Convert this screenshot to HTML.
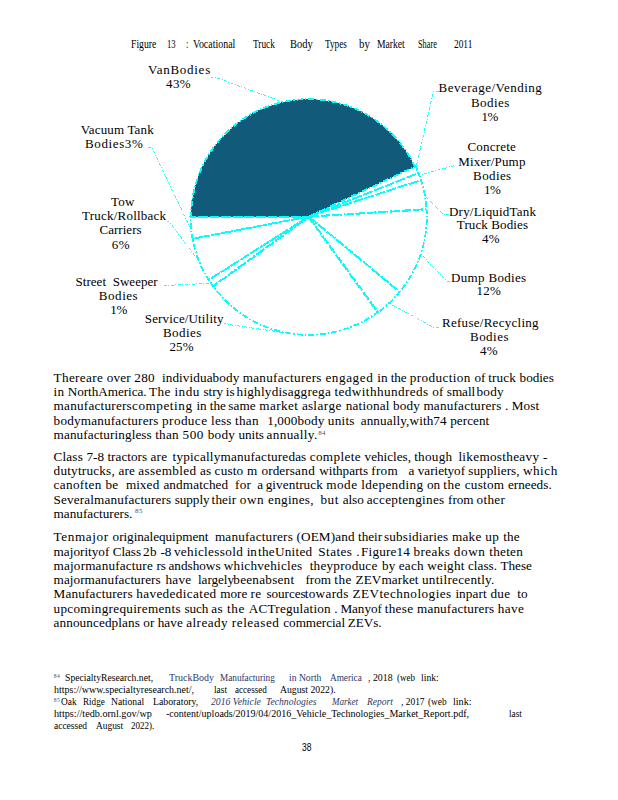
<!DOCTYPE html>
<html lang="en">
<head>
<meta charset="utf-8">
<title>Figure 13: Vocational Truck Body Types by Market Share 2011</title>
<style>
html,body{margin:0;padding:0;background:#fff;}
body{width:618px;height:800px;position:relative;overflow:hidden;
  font-family:"Liberation Serif", serif;color:#000;}
.t{position:absolute;white-space:pre;line-height:16px;transform-origin:0 50%;}
</style>
</head>
<body>
<svg width="618" height="800" viewBox="0 0 618 800" style="position:absolute;left:0;top:0" shape-rendering="crispEdges">
<path d="M308.6 216.6L191.1 216.6A117.50 117.50 0 0 1 414.9 166.6Z" fill="#125a79" stroke="#00ffff" stroke-width="1.8" stroke-dasharray="6 2 1.6 2"/>
<path transform="translate(0.64 -0.28)" d="M308.6 216.6L414.9 166.6A117.50 117.50 0 0 1 417.8 173.3Z" fill="none" stroke="#00ffff" stroke-width="1.8" stroke-dasharray="6 2 1.6 2"/>
<path transform="translate(0.66 -0.24)" d="M308.6 216.6L417.8 173.3A117.50 117.50 0 0 1 420.3 180.3Z" fill="none" stroke="#00ffff" stroke-width="1.8" stroke-dasharray="6 2 1.6 2"/>
<path transform="translate(0.69 -0.13)" d="M308.6 216.6L420.3 180.3A117.50 117.50 0 0 1 425.9 209.2Z" fill="none" stroke="#00ffff" stroke-width="1.8" stroke-dasharray="6 2 1.6 2"/>
<path transform="translate(0.67 0.22)" d="M308.6 216.6L425.9 209.2A117.50 117.50 0 0 1 399.1 291.5Z" fill="none" stroke="#00ffff" stroke-width="1.8" stroke-dasharray="6 2 1.6 2"/>
<path transform="translate(0.48 0.51)" d="M308.6 216.6L399.1 291.5A117.50 117.50 0 0 1 377.7 311.7Z" fill="none" stroke="#00ffff" stroke-width="1.8" stroke-dasharray="6 2 1.6 2"/>
<path transform="translate(-0.11 0.69)" d="M308.6 216.6L377.7 311.7A117.50 117.50 0 0 1 213.5 285.7Z" fill="none" stroke="#00ffff" stroke-width="1.8" stroke-dasharray="6 2 1.6 2"/>
<path transform="translate(-0.58 0.39)" d="M308.6 216.6L213.5 285.7A117.50 117.50 0 0 1 209.4 279.6Z" fill="none" stroke="#00ffff" stroke-width="1.8" stroke-dasharray="6 2 1.6 2"/>
<path transform="translate(-0.65 0.26)" d="M308.6 216.6L209.4 279.6A117.50 117.50 0 0 1 193.2 238.6Z" fill="none" stroke="#00ffff" stroke-width="1.8" stroke-dasharray="6 2 1.6 2"/>
<path transform="translate(-0.70 0.07)" d="M308.6 216.6L193.2 238.6A117.50 117.50 0 0 1 191.1 216.6Z" fill="none" stroke="#00ffff" stroke-width="1.8" stroke-dasharray="6 2 1.6 2"/>
<polyline points="210.5,77.0 216.0,77.5 281.5,101.5" fill="none" stroke="#00ffff" stroke-width="0.9" stroke-dasharray="3 1.5 1 1.5"/>
<polyline points="148.0,147.7 152.0,148.0 190.5,228.0" fill="none" stroke="#00ffff" stroke-width="0.9" stroke-dasharray="3 1.5 1 1.5"/>
<polyline points="166.5,221.7 170.0,222.5 198.3,260.4" fill="none" stroke="#00ffff" stroke-width="0.9" stroke-dasharray="3 1.5 1 1.5"/>
<polyline points="164.0,285.5 210.4,283.3" fill="none" stroke="#00ffff" stroke-width="0.9" stroke-dasharray="3 1.5 1 1.5"/>
<polyline points="223.5,323.7 289.5,333.5" fill="none" stroke="#00ffff" stroke-width="0.9" stroke-dasharray="3 1.5 1 1.5"/>
<polyline points="438.5,91.6 433.4,92.0 416.0,167.0" fill="none" stroke="#00ffff" stroke-width="0.9" stroke-dasharray="3 1.5 1 1.5"/>
<polyline points="454.0,165.7 418.0,175.5" fill="none" stroke="#00ffff" stroke-width="0.9" stroke-dasharray="3 1.5 1 1.5"/>
<polyline points="449.0,214.8 443.7,214.8 424.5,195.0" fill="none" stroke="#00ffff" stroke-width="0.9" stroke-dasharray="3 1.5 1 1.5"/>
<polyline points="450.0,281.0 447.0,281.0 420.2,253.5" fill="none" stroke="#00ffff" stroke-width="0.9" stroke-dasharray="3 1.5 1 1.5"/>
<polyline points="438.5,327.0 433.0,327.0 388.8,303.0" fill="none" stroke="#00ffff" stroke-width="0.9" stroke-dasharray="3 1.5 1 1.5"/>
</svg>
<span class="t" style="left:131.1px;top:36.1px;font-size:13.3px;transform:scaleX(0.7287);">Figure</span>
<span class="t" style="left:167.2px;top:36.1px;font-size:13.3px;transform:scaleX(0.6543);">13</span>
<span class="t" style="left:185.9px;top:36.1px;font-size:13.3px;transform:scaleX(0.6211);">:</span>
<span class="t" style="left:192.8px;top:36.1px;font-size:13.3px;transform:scaleX(0.7470);">Vocational</span>
<span class="t" style="left:252.5px;top:36.1px;font-size:13.3px;transform:scaleX(0.6998);">Truck</span>
<span class="t" style="left:290.4px;top:36.1px;font-size:13.3px;transform:scaleX(0.7874);">Body</span>
<span class="t" style="left:324.8px;top:36.1px;font-size:13.3px;transform:scaleX(0.6904);">Types</span>
<span class="t" style="left:359.1px;top:36.1px;font-size:13.3px;transform:scaleX(0.8122);">by</span>
<span class="t" style="left:377.2px;top:36.1px;font-size:13.3px;transform:scaleX(0.7212);">Market</span>
<span class="t" style="left:418.0px;top:36.1px;font-size:13.3px;transform:scaleX(0.6241);">Share</span>
<span class="t" style="left:453.5px;top:36.1px;font-size:13.3px;transform:scaleX(0.7047);">2011</span>
<span class="t" style="left:148.0px;top:61.5px;font-size:13.0px;letter-spacing:0.732px;">VanBodies</span>
<span class="t" style="left:166.1px;top:75.5px;font-size:13.0px;letter-spacing:0.378px;">43%</span>
<span class="t" style="left:80.7px;top:121.8px;font-size:13.0px;letter-spacing:0.158px;">Vacuum Tank</span>
<span class="t" style="left:85.1px;top:135.8px;font-size:13.0px;letter-spacing:0.607px;">Bodies3%</span>
<span class="t" style="left:111.1px;top:193.9px;font-size:13.0px;letter-spacing:0.189px;">Tow</span>
<span class="t" style="left:82.0px;top:208.0px;font-size:13.0px;letter-spacing:0.228px;">Truck/Rollback</span>
<span class="t" style="left:99.5px;top:222.4px;font-size:13.0px;letter-spacing:0.032px;">Carriers</span>
<span class="t" style="left:111.8px;top:236.7px;font-size:13.0px;letter-spacing:0.456px;">6%</span>
<span class="t" style="left:75.5px;top:273.6px;font-size:13.0px;letter-spacing:0.043px;">Street  Sweeper</span>
<span class="t" style="left:98.8px;top:287.8px;font-size:13.0px;letter-spacing:0.555px;">Bodies</span>
<span class="t" style="left:110.2px;top:301.7px;font-size:13.0px;letter-spacing:-0.244px;">1%</span>
<span class="t" style="left:144.8px;top:311.1px;font-size:13.0px;letter-spacing:0.147px;">Service/Utility</span>
<span class="t" style="left:162.9px;top:325.0px;font-size:13.0px;letter-spacing:0.475px;">Bodies</span>
<span class="t" style="left:169.4px;top:339.2px;font-size:13.0px;letter-spacing:0.228px;">25%</span>
<span class="t" style="left:438.6px;top:80.2px;font-size:13.0px;letter-spacing:0.471px;">Beverage/Vending</span>
<span class="t" style="left:471.0px;top:94.5px;font-size:13.0px;letter-spacing:0.435px;">Bodies</span>
<span class="t" style="left:481.6px;top:108.7px;font-size:13.0px;letter-spacing:-0.544px;">1%</span>
<span class="t" style="left:467.4px;top:139.3px;font-size:13.0px;letter-spacing:0.211px;">Concrete</span>
<span class="t" style="left:458.3px;top:153.8px;font-size:13.0px;letter-spacing:0.152px;">Mixer/Pump</span>
<span class="t" style="left:473.1px;top:168.0px;font-size:13.0px;letter-spacing:0.375px;">Bodies</span>
<span class="t" style="left:484.0px;top:182.0px;font-size:13.0px;letter-spacing:-0.544px;">1%</span>
<span class="t" style="left:449.0px;top:203.6px;font-size:13.0px;letter-spacing:0.208px;">Dry/LiquidTank</span>
<span class="t" style="left:456.8px;top:217.3px;font-size:13.0px;letter-spacing:0.113px;">Truck Bodies</span>
<span class="t" style="left:482.1px;top:231.3px;font-size:13.0px;letter-spacing:0.256px;">4%</span>
<span class="t" style="left:451.1px;top:269.6px;font-size:13.0px;letter-spacing:0.312px;">Dump Bodies</span>
<span class="t" style="left:476.4px;top:283.3px;font-size:13.0px;letter-spacing:0.278px;">12%</span>
<span class="t" style="left:442.0px;top:315.4px;font-size:13.0px;letter-spacing:0.279px;">Refuse/Recycling</span>
<span class="t" style="left:470.0px;top:329.2px;font-size:13.0px;letter-spacing:0.475px;">Bodies</span>
<span class="t" style="left:480.0px;top:343.1px;font-size:13.0px;letter-spacing:0.356px;">4%</span>
<span class="t" style="left:53.6px;top:369.8px;font-size:13.2px;letter-spacing:0.338px;">Thereare </span>
<span class="t" style="left:106.8px;top:369.8px;font-size:13.2px;letter-spacing:0.153px;">over </span>
<span class="t" style="left:134.3px;top:369.8px;font-size:13.2px;letter-spacing:0.250px;">280 </span>
<span class="t" style="left:162.0px;top:369.8px;font-size:13.2px;letter-spacing:0.086px;">individuabody </span>
<span class="t" style="left:242.7px;top:369.8px;font-size:13.2px;letter-spacing:0.283px;">manufacturers </span>
<span class="t" style="left:325.4px;top:369.8px;font-size:13.2px;letter-spacing:0.583px;">engaged </span>
<span class="t" style="left:377.3px;top:369.8px;font-size:13.2px;letter-spacing:-0.050px;">in the </span>
<span class="t" style="left:409.8px;top:369.8px;font-size:13.2px;letter-spacing:0.387px;">production </span>
<span class="t" style="left:474.5px;top:369.8px;font-size:13.2px;letter-spacing:-0.050px;">of </span>
<span class="t" style="left:488.2px;top:369.8px;font-size:13.2px;letter-spacing:0.166px;">truck </span>
<span class="t" style="left:519.6px;top:369.8px;font-size:13.2px;letter-spacing:-0.050px;">bodies</span>
<span class="t" style="left:53.6px;top:384.1px;font-size:13.2px;letter-spacing:0.179px;">in </span>
<span class="t" style="left:67.7px;top:384.1px;font-size:13.2px;letter-spacing:-0.050px;">NorthAmerica. </span>
<span class="t" style="left:148.9px;top:384.1px;font-size:13.2px;letter-spacing:0.450px;">The indu </span>
<span class="t" style="left:203.5px;top:384.1px;font-size:13.2px;letter-spacing:-0.050px;">stry </span>
<span class="t" style="left:225.8px;top:384.1px;font-size:13.2px;letter-spacing:-0.050px;">is </span>
<span class="t" style="left:236.6px;top:384.1px;font-size:13.2px;letter-spacing:0.222px;">highlydisaggrega </span>
<span class="t" style="left:334.5px;top:384.1px;font-size:13.2px;letter-spacing:0.406px;">tedwithhundreds </span>
<span class="t" style="left:432.2px;top:384.1px;font-size:13.2px;letter-spacing:0.101px;">of </span>
<span class="t" style="left:446.8px;top:384.1px;font-size:13.2px;letter-spacing:-0.050px;">small </span>
<span class="t" style="left:476.5px;top:384.1px;font-size:13.2px;letter-spacing:0.242px;">body</span>
<span class="t" style="left:53.6px;top:398.3px;font-size:13.2px;letter-spacing:0.228px;">manufacturers</span>
<span class="t" style="left:132.0px;top:398.3px;font-size:13.2px;letter-spacing:0.543px;">competing </span>
<span class="t" style="left:196.4px;top:398.3px;font-size:13.2px;letter-spacing:-0.050px;">in the </span>
<span class="t" style="left:228.2px;top:398.3px;font-size:13.2px;letter-spacing:0.139px;">same </span>
<span class="t" style="left:259.3px;top:398.3px;font-size:13.2px;letter-spacing:0.411px;">market </span>
<span class="t" style="left:302.1px;top:398.3px;font-size:13.2px;letter-spacing:-0.050px;">as </span>
<span class="t" style="left:313.2px;top:398.3px;font-size:13.2px;letter-spacing:0.530px;">large </span>
<span class="t" style="left:345.8px;top:398.3px;font-size:13.2px;letter-spacing:0.158px;">national </span>
<span class="t" style="left:393.0px;top:398.3px;font-size:13.2px;letter-spacing:0.142px;">body</span>
<span class="t" style="left:423.4px;top:398.3px;font-size:13.2px;letter-spacing:0.205px;">manufacturers </span>
<span class="t" style="left:505.0px;top:398.3px;font-size:13.2px;letter-spacing:0.103px;">. </span>
<span class="t" style="left:511.8px;top:398.3px;font-size:13.2px;letter-spacing:0.058px;">Most</span>
<span class="t" style="left:53.6px;top:412.6px;font-size:13.2px;letter-spacing:0.188px;">bodymanufacturers </span>
<span class="t" style="left:162.1px;top:412.6px;font-size:13.2px;letter-spacing:0.402px;">produce </span>
<span class="t" style="left:211.1px;top:412.6px;font-size:13.2px;letter-spacing:0.184px;">less </span>
<span class="t" style="left:235.1px;top:412.6px;font-size:13.2px;letter-spacing:0.250px;">than </span>
<span class="t" style="left:267.2px;top:412.6px;font-size:13.2px;letter-spacing:0.126px;">1,000body </span>
<span class="t" style="left:327.8px;top:412.6px;font-size:13.2px;letter-spacing:0.250px;">units </span>
<span class="t" style="left:360.7px;top:412.6px;font-size:13.2px;letter-spacing:0.107px;">annually,with74 </span>
<span class="t" style="left:450.2px;top:412.6px;font-size:13.2px;letter-spacing:0.048px;">percent</span>
<span class="t" style="left:53.6px;top:426.8px;font-size:13.2px;letter-spacing:0.090px;">manufacturingless </span>
<span class="t" style="left:155.2px;top:426.8px;font-size:13.2px;letter-spacing:0.257px;">than </span>
<span class="t" style="left:182.5px;top:426.8px;font-size:13.2px;letter-spacing:0.555px;">500 </span>
<span class="t" style="left:207.8px;top:426.8px;font-size:13.2px;letter-spacing:0.206px;">body </span>
<span class="t" style="left:238.5px;top:426.8px;font-size:13.2px;letter-spacing:-0.050px;">units </span>
<span class="t" style="left:266.6px;top:426.8px;font-size:13.2px;letter-spacing:0.343px;">annually.</span>
<span class="t" style="left:53.6px;top:448.7px;font-size:13.2px;letter-spacing:0.154px;">Class </span>
<span class="t" style="left:86.4px;top:448.7px;font-size:13.2px;letter-spacing:0.027px;">7-8 </span>
<span class="t" style="left:107.4px;top:448.7px;font-size:13.2px;letter-spacing:0.028px;">tractors </span>
<span class="t" style="left:150.5px;top:448.7px;font-size:13.2px;letter-spacing:0.250px;">are </span>
<span class="t" style="left:172.6px;top:448.7px;font-size:13.2px;letter-spacing:0.189px;">typicallymanufactured</span>
<span class="t" style="left:295.2px;top:448.7px;font-size:13.2px;letter-spacing:0.068px;">as </span>
<span class="t" style="left:309.7px;top:448.7px;font-size:13.2px;letter-spacing:0.362px;">complete </span>
<span class="t" style="left:364.6px;top:448.7px;font-size:13.2px;letter-spacing:-0.021px;">vehicles, </span>
<span class="t" style="left:414.2px;top:448.7px;font-size:13.2px;letter-spacing:0.250px;">though </span>
<span class="t" style="left:458.4px;top:448.7px;font-size:13.2px;letter-spacing:0.306px;">likemostheavy </span>
<span class="t" style="left:542.9px;top:448.7px;font-size:13.2px;letter-spacing:-0.006px;">-</span>
<span class="t" style="left:53.6px;top:463.0px;font-size:13.2px;letter-spacing:0.218px;">dutytrucks, </span>
<span class="t" style="left:118.5px;top:463.0px;font-size:13.2px;letter-spacing:0.098px;">are </span>
<span class="t" style="left:138.3px;top:463.0px;font-size:13.2px;letter-spacing:0.347px;">assembled </span>
<span class="t" style="left:200.0px;top:463.0px;font-size:13.2px;letter-spacing:0.101px;">as </span>
<span class="t" style="left:214.6px;top:463.0px;font-size:13.2px;letter-spacing:0.193px;">custo </span>
<span class="t" style="left:246.9px;top:463.0px;font-size:13.2px;letter-spacing:0.519px;">m </span>
<span class="t" style="left:261.5px;top:463.0px;font-size:13.2px;letter-spacing:0.072px;">orders</span>
<span class="t" style="left:294.9px;top:463.0px;font-size:13.2px;letter-spacing:0.514px;">and </span>
<span class="t" style="left:319.3px;top:463.0px;font-size:13.2px;letter-spacing:-0.039px;">withparts </span>
<span class="t" style="left:371.3px;top:463.0px;font-size:13.2px;letter-spacing:0.250px;">from </span>
<span class="t" style="left:408.5px;top:463.0px;font-size:13.2px;letter-spacing:0.072px;">a </span>
<span class="t" style="left:417.8px;top:463.0px;font-size:13.2px;letter-spacing:-0.041px;">varietyof </span>
<span class="t" style="left:468.3px;top:463.0px;font-size:13.2px;letter-spacing:0.035px;">suppliers, </span>
<span class="t" style="left:522.9px;top:463.0px;font-size:13.2px;letter-spacing:0.541px;">which</span>
<span class="t" style="left:53.6px;top:477.2px;font-size:13.2px;letter-spacing:0.344px;">canoften </span>
<span class="t" style="left:105.4px;top:477.2px;font-size:13.2px;letter-spacing:0.250px;">be </span>
<span class="t" style="left:126.0px;top:477.2px;font-size:13.2px;letter-spacing:-0.050px;">mix</span>
<span class="t" style="left:146.6px;top:477.2px;font-size:13.2px;letter-spacing:0.250px;">ed</span>
<span class="t" style="left:163.4px;top:477.2px;font-size:13.2px;letter-spacing:0.120px;">andmatched</span>
<span class="t" style="left:235.1px;top:477.2px;font-size:13.2px;letter-spacing:0.250px;">for </span>
<span class="t" style="left:257.3px;top:477.2px;font-size:13.2px;letter-spacing:-0.050px;">a </span>
<span class="t" style="left:265.7px;top:477.2px;font-size:13.2px;letter-spacing:0.082px;">giventruck </span>
<span class="t" style="left:326.3px;top:477.2px;font-size:13.2px;letter-spacing:0.478px;">mode </span>
<span class="t" style="left:361.3px;top:477.2px;font-size:13.2px;letter-spacing:0.345px;">ldepending </span>
<span class="t" style="left:427.0px;top:477.2px;font-size:13.2px;letter-spacing:-0.050px;">on </span>
<span class="t" style="left:443.3px;top:477.2px;font-size:13.2px;letter-spacing:0.495px;">the </span>
<span class="t" style="left:464.7px;top:477.2px;font-size:13.2px;letter-spacing:0.256px;">custom </span>
<span class="t" style="left:507.9px;top:477.2px;font-size:13.2px;letter-spacing:0.032px;">erneeds.</span>
<span class="t" style="left:53.6px;top:491.5px;font-size:13.2px;letter-spacing:0.135px;">Severalmanufacturers </span>
<span class="t" style="left:174.7px;top:491.5px;font-size:13.2px;letter-spacing:-0.050px;">supply</span>
<span class="t" style="left:211.6px;top:491.5px;font-size:13.2px;letter-spacing:0.122px;">their </span>
<span class="t" style="left:239.8px;top:491.5px;font-size:13.2px;letter-spacing:0.571px;">own </span>
<span class="t" style="left:268.1px;top:491.5px;font-size:13.2px;letter-spacing:0.250px;">engines, </span>
<span class="t" style="left:320.5px;top:491.5px;font-size:13.2px;letter-spacing:0.511px;">but </span>
<span class="t" style="left:342.7px;top:491.5px;font-size:13.2px;letter-spacing:-0.050px;">also </span>
<span class="t" style="left:366.7px;top:491.5px;font-size:13.2px;letter-spacing:0.295px;">acceptengines </span>
<span class="t" style="left:448.1px;top:491.5px;font-size:13.2px;letter-spacing:-0.050px;">from </span>
<span class="t" style="left:476.6px;top:491.5px;font-size:13.2px;letter-spacing:0.298px;">other</span>
<span class="t" style="left:53.6px;top:505.7px;font-size:13.2px;letter-spacing:0.005px;">manufacturers.</span>
<span class="t" style="left:53.6px;top:529.3px;font-size:13.2px;letter-spacing:0.595px;">Tenmajor </span>
<span class="t" style="left:112.6px;top:529.3px;font-size:13.2px;letter-spacing:-0.050px;">originalequipment</span>
<span class="t" style="left:214.9px;top:529.3px;font-size:13.2px;letter-spacing:0.205px;">manufacturers </span>
<span class="t" style="left:296.5px;top:529.3px;font-size:13.2px;letter-spacing:0.129px;">(OEM)and </span>
<span class="t" style="left:358.1px;top:529.3px;font-size:13.2px;letter-spacing:-0.050px;">their </span>
<span class="t" style="left:384.0px;top:529.3px;font-size:13.2px;letter-spacing:0.179px;">subsidiaries </span>
<span class="t" style="left:451.9px;top:529.3px;font-size:13.2px;letter-spacing:0.308px;">make </span>
<span class="t" style="left:485.3px;top:529.3px;font-size:13.2px;letter-spacing:0.472px;">up </span>
<span class="t" style="left:503.2px;top:529.3px;font-size:13.2px;letter-spacing:0.138px;">the</span>
<span class="t" style="left:53.6px;top:543.6px;font-size:13.2px;letter-spacing:0.012px;">majorityof </span>
<span class="t" style="left:112.7px;top:543.6px;font-size:13.2px;letter-spacing:-0.050px;">Class </span>
<span class="t" style="left:143.0px;top:543.6px;font-size:13.2px;letter-spacing:0.305px;">2b </span>
<span class="t" style="left:160.4px;top:543.6px;font-size:13.2px;letter-spacing:-0.050px;">-8 </span>
<span class="t" style="left:173.9px;top:543.6px;font-size:13.2px;letter-spacing:0.331px;">vehiclessold </span>
<span class="t" style="left:246.7px;top:543.6px;font-size:13.2px;letter-spacing:-0.050px;">in </span>
<span class="t" style="left:258.1px;top:543.6px;font-size:13.2px;letter-spacing:0.250px;">theUnited</span>
<span class="t" style="left:318.3px;top:543.6px;font-size:13.2px;letter-spacing:0.441px;">States </span>
<span class="t" style="left:356.2px;top:543.6px;font-size:13.2px;letter-spacing:-0.050px;">. </span>
<span class="t" style="left:361.1px;top:543.6px;font-size:13.2px;letter-spacing:0.175px;">Figure14 </span>
<span class="t" style="left:413.6px;top:543.6px;font-size:13.2px;letter-spacing:0.354px;">breaks </span>
<span class="t" style="left:453.8px;top:543.6px;font-size:13.2px;letter-spacing:0.578px;">down </span>
<span class="t" style="left:489.3px;top:543.6px;font-size:13.2px;letter-spacing:0.250px;">theten</span>
<span class="t" style="left:53.6px;top:557.8px;font-size:13.2px;letter-spacing:0.167px;">majormanufacture </span>
<span class="t" style="left:156.4px;top:557.8px;font-size:13.2px;letter-spacing:-0.050px;">rs </span>
<span class="t" style="left:168.5px;top:557.8px;font-size:13.2px;">andshows </span>
<span class="t" style="left:223.8px;top:557.8px;font-size:13.2px;letter-spacing:0.250px;">whichvehicles</span>
<span class="t" style="left:309.7px;top:557.8px;font-size:13.2px;letter-spacing:0.241px;">theyproduce</span>
<span class="t" style="left:382.0px;top:557.8px;font-size:13.2px;letter-spacing:0.105px;">by </span>
<span class="t" style="left:398.8px;top:557.8px;font-size:13.2px;letter-spacing:0.209px;">each </span>
<span class="t" style="left:427.3px;top:557.8px;font-size:13.2px;letter-spacing:0.250px;">weight</span>
<span class="t" style="left:467.9px;top:557.8px;font-size:13.2px;letter-spacing:0.038px;">class. </span>
<span class="t" style="left:500.4px;top:557.8px;font-size:13.2px;">These</span>
<span class="t" style="left:53.6px;top:572.1px;font-size:13.2px;letter-spacing:0.054px;">majormanufacturers</span>
<span class="t" style="left:165.5px;top:572.1px;font-size:13.2px;letter-spacing:0.250px;">have </span>
<span class="t" style="left:198.0px;top:572.1px;font-size:13.2px;letter-spacing:-0.050px;">largely</span>
<span class="t" style="left:233.3px;top:572.1px;font-size:13.2px;letter-spacing:0.250px;">beenabsent</span>
<span class="t" style="left:305.5px;top:572.1px;font-size:13.2px;letter-spacing:-0.027px;">from </span>
<span class="t" style="left:334.3px;top:572.1px;font-size:13.2px;letter-spacing:0.470px;">the </span>
<span class="t" style="left:355.6px;top:572.1px;font-size:13.2px;letter-spacing:0.085px;">ZEVmarket </span>
<span class="t" style="left:422.0px;top:572.1px;font-size:13.2px;letter-spacing:0.254px;">untilrecently.</span>
<span class="t" style="left:53.6px;top:586.3px;font-size:13.2px;letter-spacing:0.172px;">Manufacturers </span>
<span class="t" style="left:136.2px;top:586.3px;font-size:13.2px;letter-spacing:0.384px;">havededicated </span>
<span class="t" style="left:220.3px;top:586.3px;font-size:13.2px;letter-spacing:-0.041px;">more </span>
<span class="t" style="left:250.5px;top:586.3px;font-size:13.2px;letter-spacing:0.250px;">re </span>
<span class="t" style="left:266.4px;top:586.3px;font-size:13.2px;letter-spacing:-0.050px;">sources</span>
<span class="t" style="left:304.7px;top:586.3px;font-size:13.2px;letter-spacing:0.330px;">towards </span>
<span class="t" style="left:352.4px;top:586.3px;font-size:13.2px;letter-spacing:0.469px;">ZEVtechnologies </span>
<span class="t" style="left:455.5px;top:586.3px;font-size:13.2px;letter-spacing:-0.050px;">in </span>
<span class="t" style="left:465.7px;top:586.3px;font-size:13.2px;letter-spacing:0.198px;">part </span>
<span class="t" style="left:490.5px;top:586.3px;font-size:13.2px;letter-spacing:0.250px;">due </span>
<span class="t" style="left:517.3px;top:586.3px;font-size:13.2px;letter-spacing:-0.050px;">to</span>
<span class="t" style="left:53.6px;top:600.5px;font-size:13.2px;letter-spacing:0.281px;">upcomingrequirements </span>
<span class="t" style="left:184.4px;top:600.5px;font-size:13.2px;letter-spacing:-0.050px;">such </span>
<span class="t" style="left:211.2px;top:600.5px;font-size:13.2px;letter-spacing:0.501px;">as </span>
<span class="t" style="left:227.0px;top:600.5px;font-size:13.2px;letter-spacing:0.595px;">the </span>
<span class="t" style="left:248.8px;top:600.5px;font-size:13.2px;letter-spacing:0.209px;">ACTregulation</span>
<span class="t" style="left:334.3px;top:600.5px;font-size:13.2px;letter-spacing:-0.050px;">. </span>
<span class="t" style="left:340.4px;top:600.5px;font-size:13.2px;letter-spacing:-0.050px;">Manyof</span>
<span class="t" style="left:384.7px;top:600.5px;font-size:13.2px;letter-spacing:0.316px;">these </span>
<span class="t" style="left:417.0px;top:600.5px;font-size:13.2px;letter-spacing:0.140px;">manufacturers </span>
<span class="t" style="left:497.7px;top:600.5px;font-size:13.2px;letter-spacing:0.465px;">have</span>
<span class="t" style="left:53.6px;top:614.8px;font-size:13.2px;letter-spacing:0.096px;">announcedplans </span>
<span class="t" style="left:143.3px;top:614.8px;font-size:13.2px;letter-spacing:0.034px;">or </span>
<span class="t" style="left:157.7px;top:614.8px;font-size:13.2px;letter-spacing:0.059px;">have </span>
<span class="t" style="left:186.2px;top:614.8px;font-size:13.2px;letter-spacing:0.436px;">already </span>
<span class="t" style="left:231.8px;top:614.8px;font-size:13.2px;letter-spacing:0.556px;">released </span>
<span class="t" style="left:283.3px;top:614.8px;font-size:13.2px;letter-spacing:-0.050px;">commercial </span>
<span class="t" style="left:347.8px;top:614.8px;font-size:13.2px;letter-spacing:-0.050px;">ZEVs.</span>
<span class="t" style="left:318.2px;top:424.6px;font-size:7.0px;color:#46506e;letter-spacing:0.200px;">84</span>
<span class="t" style="left:134.9px;top:503.4px;font-size:7.0px;color:#46506e;letter-spacing:0.500px;">85</span>
<span class="t" style="left:53.7px;top:668.3px;font-size:5.6px;color:#44506a;letter-spacing:0.406px;">84</span>
<span class="t" style="left:64.8px;top:670.3px;font-size:10.3px;transform:scaleX(0.9394);">SpecialtyResearch.net,</span>
<span class="t" style="left:169.2px;top:670.3px;font-size:10.3px;color:#1f3a68;transform:scaleX(0.9668);">TruckBody</span>
<span class="t" style="left:220.2px;top:670.3px;font-size:10.3px;color:#1f3a68;transform:scaleX(0.8954);">Manufacturing</span>
<span class="t" style="left:288.8px;top:670.3px;font-size:10.3px;color:#1f3a68;transform:scaleX(0.9362);">in North</span>
<span class="t" style="left:329.5px;top:670.3px;font-size:10.3px;color:#1f3a68;transform:scaleX(0.8970);">America</span>
<span class="t" style="left:368.4px;top:670.3px;font-size:10.3px;transform:scaleX(0.9553);">, 2018</span>
<span class="t" style="left:396.5px;top:670.3px;font-size:10.3px;transform:scaleX(0.8741);">(web</span>
<span class="t" style="left:421.2px;top:670.3px;font-size:10.3px;transform:scaleX(0.9423);">link:</span>
<span class="t" style="left:53.7px;top:682.1px;font-size:10.3px;transform:scaleX(0.9708);">https://www.specialtyresearch.net/,</span>
<span class="t" style="left:214.2px;top:682.1px;font-size:10.3px;transform:scaleX(0.9083);">last</span>
<span class="t" style="left:235.0px;top:682.1px;font-size:10.3px;transform:scaleX(0.8830);">accessed</span>
<span class="t" style="left:280.3px;top:682.1px;font-size:10.3px;transform:scaleX(0.9436);">August 2022).</span>
<span class="t" style="left:53.7px;top:691.9px;font-size:5.6px;color:#44506a;letter-spacing:0.406px;">85</span>
<span class="t" style="left:60.9px;top:693.9px;font-size:10.3px;transform:scaleX(0.9093);">Oak</span>
<span class="t" style="left:83.0px;top:693.9px;font-size:10.3px;transform:scaleX(0.8858);">Ridge</span>
<span class="t" style="left:111.4px;top:693.9px;font-size:10.3px;transform:scaleX(0.9332);">National</span>
<span class="t" style="left:152.9px;top:693.9px;font-size:10.3px;transform:scaleX(0.9506);">Laboratory,</span>
<span class="t" style="left:210.9px;top:693.9px;font-size:10.3px;color:#1f3a68;font-style:italic;transform:scaleX(0.9432);">2016 Vehicle</span>
<span class="t" style="left:266.0px;top:693.9px;font-size:10.3px;color:#1f3a68;font-style:italic;transform:scaleX(0.9357);">Technologies</span>
<span class="t" style="left:332.0px;top:693.9px;font-size:10.3px;color:#1f3a68;font-style:italic;transform:scaleX(0.8744);">Market</span>
<span class="t" style="left:366.8px;top:693.9px;font-size:10.3px;color:#1f3a68;font-style:italic;transform:scaleX(0.9240);">Report</span>
<span class="t" style="left:400.8px;top:693.9px;font-size:10.3px;transform:scaleX(0.9165);">, 2017</span>
<span class="t" style="left:428.2px;top:693.9px;font-size:10.3px;transform:scaleX(0.9032);">(web</span>
<span class="t" style="left:452.9px;top:693.9px;font-size:10.3px;transform:scaleX(0.9793);">link:</span>
<span class="t" style="left:53.7px;top:705.7px;font-size:10.3px;transform:scaleX(0.9892);">https://tedb.ornl.gov/wp</span>
<span class="t" style="left:165.8px;top:705.7px;font-size:10.3px;transform:scaleX(0.9725);">-content/uploads/2019/04/2016_Vehicle_Technologies_Market_Report.pdf,</span>
<span class="t" style="left:508.6px;top:705.7px;font-size:10.3px;transform:scaleX(0.9013);">last</span>
<span class="t" style="left:53.7px;top:717.5px;font-size:10.3px;transform:scaleX(0.9190);">accessed</span>
<span class="t" style="left:95.9px;top:717.5px;font-size:10.3px;transform:scaleX(0.9109);">August</span>
<span class="t" style="left:130.9px;top:717.5px;font-size:10.3px;transform:scaleX(0.8719);">2022).</span>
<span class="t" style="left:302.3px;top:739.1px;font-size:10.5px;font-family:'Liberation Sans', sans-serif;transform:scaleX(0.8128);">38</span>
</body>
</html>
